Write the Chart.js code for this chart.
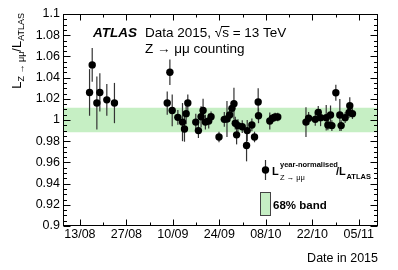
<!DOCTYPE html>
<html><head><meta charset="utf-8">
<script src="https://cdn.jsdelivr.net/npm/chart.js@4/dist/chart.umd.min.js"></script>
<style>html,body{margin:0;padding:0;background:#fff}#wrap{width:398px;height:270px;position:relative}</style>
</head><body><div id="wrap"><canvas id="c" width="398" height="270"></canvas></div>
<script>
// Day of year 2015 for each run
const runDay = [227.9,228.7,230.1,231.0,233.1,235.4,
  251.3,252.1,252.8,254.5,255.9,256.5,257.0,257.5,259.9,260.7,261.5,262.1,262.8,263.8,264.5,266.9,268.5,269.3,270.1,270.8,271.4,271.8,272.2,272.6,
  273.9,275.2,275.4,276.8,277.6,278.7,278.8,282.2,283.0,283.8,284.6,
  293.1,293.9,295.9,296.8,297.5,299.2,299.7,300.5,300.9,302.1,303.3,303.7,304.9,306.1,306.3,307.1];
const ratio = [1.026,1.052,1.016,1.026,1.019,1.016,
  1.016,1.045,1.009,1.0025,0.998,0.9915,1.006,1.016,0.998,0.990,1.003,1.009,0.998,0.999,1.003,0.984,1.0006,1.001,1.0047,1.011,1.0154,0.997,0.986,0.9947,
  0.9937,0.976,0.990,0.9953,0.984,1.017,1.004,0.999,1.0016,1.0028,1.0028,
  0.998,1.0016,1.0006,1.0072,1.0022,1.0022,0.9953,1.0047,0.9947,1.0257,1.0047,0.9947,1.0022,1.0072,1.0135,1.006];
const ratioErr = [0.022,0.016,0.025,0.018,0.015,0.019,
  0.011,0.012,0.015,0.007,0.018,0.012,0.010,0.008,0.008,0.007,0.010,0.011,0.007,0.007,0.005,0.005,0.007,0.017,0.006,0.005,0.015,0.006,0.009,0.006,
  0.006,0.015,0.010,0.006,0.005,0.013,0.007,0.008,0.004,0.004,0.004,
  0.014,0.006,0.006,0.006,0.008,0.012,0.005,0.009,0.005,0.0075,0.015,0.005,0.005,0.005,0.008,0.005];
const band68 = [0.9885, 1.0115];
const xTickDays = [225,239,253,267,281,295,309];
const yTickValues = [0.9,0.92,0.94,0.96,0.98,1.0,1.02,1.04,1.06,1.08,1.1];
const xRange = [219.9, 314.8];

const FONT = "'Liberation Sans', Arial, Helvetica, sans-serif";
const bandColor = '#c6efc4';

function dayLabel(d){
  const dt = new Date(Date.UTC(2015,0,d));
  const dd = String(dt.getUTCDate()).padStart(2,'0');
  const mm = String(dt.getUTCMonth()+1).padStart(2,'0');
  return dd+'/'+mm;
}

const points = runDay.map((d,i)=>({x:d,y:ratio[i],e:ratioErr[i]}));

function drawRich(ctx, segs){
  let x = 0;
  for (const s of segs){
    ctx.font = s.font;
    ctx.fillText(s.t, x, s.dy||0);
    const w = ctx.measureText(s.t).width;
    if (s.over){ ctx.save(); ctx.lineWidth=1; ctx.strokeStyle='#000'; ctx.beginPath(); ctx.moveTo(x-1, s.over); ctx.lineTo(x+w+0.5, s.over); ctx.stroke(); ctx.restore(); }
    x += w + (s.gap||0);
  }
  return x;
}
function richWidth(ctx, segs){
  let x=0; for(const s of segs){ctx.font=s.font; x+=ctx.measureText(s.t).width+(s.gap||0);} return x;
}

const errPlugin = {
  id:'errbars',
  beforeDatasetDraw(chart, args){
    if (args.index !== 2) return;
    const ctx = chart.ctx, xs = chart.scales.x, ys = chart.scales.y;
    ctx.save();
    ctx.strokeStyle = '#333'; ctx.lineWidth = 1.2;
    points.forEach(p=>{
      const px = xs.getPixelForValue(p.x);
      ctx.beginPath();
      ctx.moveTo(px, ys.getPixelForValue(p.y+p.e));
      ctx.lineTo(px, ys.getPixelForValue(p.y-p.e));
      ctx.stroke();
    });
    ctx.restore();
  }
};

const framePlugin = {
  id:'frame',
  afterDraw(chart){
    const ctx = chart.ctx, a = chart.chartArea, xs = chart.scales.x, ys = chart.scales.y;
    ctx.save();
    ctx.strokeStyle = '#000'; ctx.lineWidth = 1;
    const L = Math.round(a.left)+0.5, R = Math.round(a.right)-0.5, T = Math.round(a.top)+0.5, B = Math.round(a.bottom)-0.5;
    ctx.strokeRect(L, T, R-L, B-T);
    ctx.beginPath();
    for (let k=0;k<=40;k++){
      const v = 0.9 + k*0.005;
      const py = Math.round(ys.getPixelForValue(v))+0.5;
      const len = (k%4===0)?7:3.5;
      ctx.moveTo(L,py); ctx.lineTo(L+len,py);
      ctx.moveTo(R,py); ctx.lineTo(R-len,py);
    }
    const xt = [];
    xTickDays.forEach(d=>{xt.push([d,6]); xt.push([d+7,3]);});
    xt.forEach(([d,len])=>{
      if (d < xRange[0] || d > xRange[1]) return;
      const px = Math.round(xs.getPixelForValue(d))+0.5;
      ctx.moveTo(px,B); ctx.lineTo(px,B-len);
      ctx.moveTo(px,T); ctx.lineTo(px,T+len);
    });
    ctx.stroke();

    ctx.fillStyle = '#000';
    ctx.textBaseline = 'alphabetic';
    ctx.font = `italic bold 13.5px ${FONT}`;
    ctx.fillText('ATLAS', 93, 37);
    ctx.save(); ctx.translate(145,37);
    drawRich(ctx,[
      {t:'Data 2015, ', font:`13.5px ${FONT}`},
      {t:'\u221A', font:`13.5px ${FONT}`},
      {t:'s', font:`13.5px ${FONT}`, over:-10.5},
      {t:' = 13 TeV', font:`13.5px ${FONT}`}
    ]);
    ctx.restore();
    ctx.font = `13.5px ${FONT}`;
    ctx.fillText('Z \u2192 \u03BC\u03BC counting', 145, 53);

    const ysegs = [
      {t:'L', font:`13px ${FONT}`},
      {t:'Z \u2192 \u03BC\u03BC', font:`9px ${FONT}`, dy:3},
      {t:'/L', font:`13px ${FONT}`},
      {t:'ATLAS', font:`9px ${FONT}`, dy:3}
    ];
    const yw = richWidth(ctx, ysegs);
    ctx.save(); ctx.translate(21, 13+yw); ctx.rotate(-Math.PI/2);
    drawRich(ctx, ysegs);
    ctx.restore();

    ctx.font = `12.5px ${FONT}`;
    ctx.textAlign = 'right';
    ctx.fillText('Date in 2015', 378, 262);
    ctx.textAlign = 'left';

    ctx.strokeStyle = '#333'; ctx.lineWidth = 1.2;
    ctx.beginPath(); ctx.moveTo(265.5,160); ctx.lineTo(265.5,180); ctx.stroke();
    ctx.beginPath(); ctx.arc(265.5,170,3.7,0,Math.PI*2); ctx.fill();
    ctx.save(); ctx.translate(272,175);
    ctx.font = `bold 11px ${FONT}`;
    ctx.fillText('L', 0, 0);
    ctx.font = `bold 7.5px ${FONT}`;
    ctx.fillText('year-normalised', 8, -8);
    ctx.font = `7.5px ${FONT}`;
    ctx.fillText('Z \u2192 \u03BC\u03BC', 8, 5);
    ctx.font = `bold 11px ${FONT}`;
    ctx.fillText('/L', 64, 0);
    ctx.font = `bold 7.5px ${FONT}`;
    ctx.fillText('ATLAS', 74.5, 4);
    ctx.restore();
    ctx.fillStyle = bandColor;
    ctx.fillRect(260.5,192.5,10,23);
    ctx.strokeStyle = '#444'; ctx.lineWidth = 1;
    ctx.strokeRect(260.5,192.5,10,23);
    ctx.fillStyle = '#000';
    ctx.font = `bold 11.5px ${FONT}`;
    ctx.fillText('68% band', 273, 209);
    ctx.restore();
  }
};

new Chart(document.getElementById('c').getContext('2d'), {
  type:'scatter',
  data:{datasets:[
    {type:'line', data:[{x:xRange[0],y:band68[1]},{x:xRange[1],y:band68[1]}], borderWidth:0, pointRadius:0, fill:'+1', backgroundColor:bandColor, order:3},
    {type:'line', data:[{x:xRange[0],y:band68[0]},{x:xRange[1],y:band68[0]}], borderWidth:0, pointRadius:0, fill:false, order:2},
    {type:'scatter', data:points, pointRadius:3.7, pointBackgroundColor:'#000', pointBorderColor:'#000', pointBorderWidth:0, order:1}
  ]},
  options:{
    responsive:false, animation:false, events:[],
    layout:{padding:{left:0,right:20,top:14,bottom:0}},
    plugins:{legend:{display:false}, tooltip:{enabled:false}},
    scales:{
      x:{type:'linear', min:xRange[0], max:xRange[1],
        afterFit(s){s.height=44;},
        afterBuildTicks(s){s.ticks = xTickDays.map(v=>({value:v}));},
        grid:{display:false, drawTicks:false}, border:{display:false},
        ticks:{color:'#000', font:{family:FONT, size:12.5}, padding:1, maxRotation:0, autoSkip:false, callback:v=>dayLabel(v)}},
      y:{type:'linear', min:0.9, max:1.1,
        afterFit(s){s.width=63;},
        afterBuildTicks(s){s.ticks = yTickValues.map(v=>({value:v}));},
        grid:{display:false, drawTicks:false}, border:{display:false},
        ticks:{color:'#000', font:{family:FONT, size:12.5}, padding:3, autoSkip:false, callback:v=>String(+v.toFixed(2))}}
    }
  },
  plugins:[errPlugin, framePlugin]
});
</script></body></html>
